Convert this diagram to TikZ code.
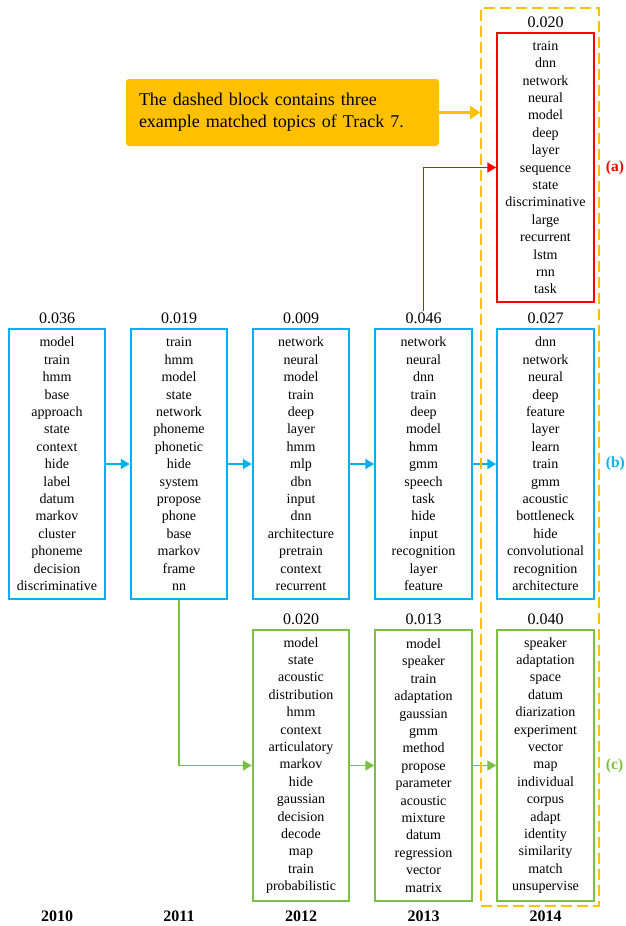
\documentclass[tikz,border=0pt]{standalone}
\usepackage{fontspec}
\setmainfont{Liberation Serif}
\usetikzlibrary{arrows.meta, positioning}
\definecolor{trackblue}{HTML}{00B0F0}
\definecolor{trackgreen}{HTML}{7AC143}
\definecolor{trackred}{HTML}{FF0000}
\definecolor{trackorange}{HTML}{FFC000}
\tikzset{
  topic box/.style={draw, line width=1.8pt, minimum width=96.7pt, minimum height=270.7pt,
    inner sep=0pt, align=center, font=\fontsize{14}{17.4}\selectfont},
  blue box/.style={topic box, draw=trackblue},
  red box/.style={topic box, draw=trackred, minimum height=269.7pt},
  green box/.style={topic box, draw=trackgreen, minimum height=271.7pt},
  weight label/.style={font=\fontsize{16}{18}\selectfont, inner sep=1.5pt},
  year label/.style={font=\fontsize{16}{18}\selectfont\bfseries, inner sep=0pt},
  track tag/.style={font=\fontsize{15.5}{18}\selectfont\bfseries, inner sep=0pt},
  blue arrow/.style={-{Triangle[length=9pt,width=10pt]}, line width=1.8pt, trackblue},
  green arrow/.style={-{Triangle[length=9pt,width=10pt]}, line width=1.8pt, trackgreen},
  red arrow/.style={-{Triangle[length=9pt,width=10pt]}, line width=1.8pt, trackred},
  dashed block/.style={draw=trackorange, line width=1.8pt, dash pattern=on 11pt off 5pt},
  callout/.style={fill=trackorange, rounded corners=3pt, inner sep=13pt, text width=287pt,
    minimum height=67pt, align=left, font=\fontsize{18}{22}\selectfont},
  callout arrow/.style={-{Triangle[length=10pt,width=13pt]}, line width=3.5pt, trackorange},
}

\begin{document}
\begin{tikzpicture}[x=1pt, y=-1pt]
  \useasboundingbox (0,0) rectangle (626,926);
  % middle track (b)
  \node[blue box] (b10) at (57,464) {model\\train\\hmm\\base\\approach\\state\\context\\hide\\label\\datum\\markov\\cluster\\phoneme\\decision\\discriminative};
  \node[blue box] (b11) at (179,464) {train\\hmm\\model\\state\\network\\phoneme\\phonetic\\hide\\system\\propose\\phone\\base\\markov\\frame\\nn};
  \node[blue box] (b12) at (301,464) {network\\neural\\model\\train\\deep\\layer\\hmm\\mlp\\dbn\\input\\dnn\\architecture\\pretrain\\context\\recurrent};
  \node[blue box] (b13) at (423.5,464) {network\\neural\\dnn\\train\\deep\\model\\hmm\\gmm\\speech\\task\\hide\\input\\recognition\\layer\\feature};
  \node[blue box] (b14) at (545.5,464) {dnn\\network\\neural\\deep\\feature\\layer\\learn\\train\\gmm\\acoustic\\bottleneck\\hide\\convolutional\\recognition\\architecture};
  % upper track (a)
  \node[red box] (r14) at (545.5,167.5) {train\\dnn\\network\\neural\\model\\deep\\layer\\sequence\\state\\discriminative\\large\\recurrent\\lstm\\rnn\\task};
  % lower track (c)
  \node[green box] (g12) at (301,765.5) {model\\state\\acoustic\\distribution\\hmm\\context\\articulatory\\markov\\hide\\gaussian\\decision\\decode\\map\\train\\probabilistic};
  \node[green box] (g13) at (423.5,765.5) {model\\speaker\\train\\adaptation\\gaussian\\gmm\\method\\propose\\parameter\\acoustic\\mixture\\datum\\regression\\vector\\matrix};
  \node[green box] (g14) at (545.5,765.5) {speaker\\adaptation\\space\\datum\\diarization\\experiment\\vector\\map\\individual\\corpus\\adapt\\identity\\similarity\\match\\unsupervise};
  % topic weights
  \node[weight label, above=2.5pt of b10] (n10) {0.036};
  \node[weight label, above=2.5pt of b11] (n11) {0.019};
  \node[weight label, above=2.5pt of b12] (n12) {0.009};
  \node[weight label, above=2.5pt of b13] (n13) {0.046};
  \node[weight label, above=2.5pt of b14] (n14) {0.027};
  \node[weight label, above=2.5pt of r14] (m14) {0.020};
  \node[weight label, above=2.5pt of g12] (k12) {0.020};
  \node[weight label, above=2.5pt of g13] (k13) {0.013};
  \node[weight label, above=2.5pt of g14] (k14) {0.040};
  % years
  \node[year label] (y10) at (57,916) {2010};
  \node[year label] (y11) at (179,916) {2011};
  \node[year label] (y12) at (301,916) {2012};
  \node[year label] (y13) at (423.5,916) {2013};
  \node[year label] (y14) at (545.5,916) {2014};
  % track tags
  \node[track tag, text=trackred, right=11pt of r14] (ta) {(a)};
  \node[track tag, text=trackblue, right=11pt of b14] (tb) {(b)};
  \node[track tag, text=trackgreen, right=11pt of g14] (tc) {(c)};
  % links
  \draw[blue arrow] (b10) -- (b11);
  \draw[blue arrow] (b11) -- (b12);
  \draw[blue arrow] (b12) -- (b13);
  \draw[blue arrow] (b13) -- (b14);
  \draw[green arrow] (b11.south) |- (g12.west);
  \draw[green arrow] (g12) -- (g13);
  \draw[green arrow] (g13) -- (g14);
  \draw[red arrow] (n13.north) |- (r14.west);
  % dashed block and note
  \node[dashed block, minimum width=118pt, minimum height=898pt] (block) at (540,457) {};
  \node[callout] (note) at (282.5,112.5) {The dashed block contains three\\example matched topics of Track 7.};
  \draw[callout arrow] (note) -- (note -| block.west);
\end{tikzpicture}
\end{document}
